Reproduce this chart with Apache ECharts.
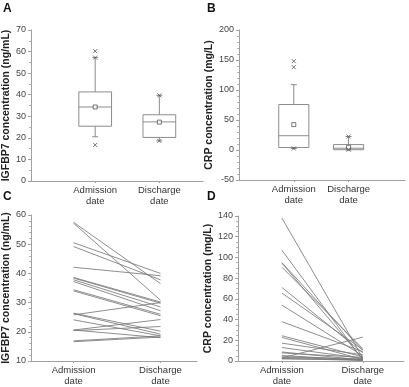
<!DOCTYPE html>
<html>
<head>
<meta charset="utf-8">
<script src="https://cdn.jsdelivr.net/npm/echarts@6/dist/echarts.min.js"></script>
<style>
  html, body { margin: 0; padding: 0; background: #fff; }
  #chart { width: 409px; height: 387px; }
</style>
</head>
<body>
<div id="chart"></div>
<script>
// labels for the two time points
const categories = ['Admission\ndate', 'Discharge\ndate']

// A: IGFBP7 boxes  [x, whiskerLow, Q1, median, Q3, whiskerHigh]
const igfbpBox = [
    [1, 20.5, 25.4, 34.3, 41.3, 57.2],
    [2, 18.6, 20.2, 27.4, 30.7, 39.7]
]
const igfbpMean = [[1, 34.3], [2, 27.3]]
const igfbpMarks = [[1, 60.2], [1, 57.2], [1, 16.7], [2, 39.7], [2, 18.6]]

// B: CRP boxes
const crpBox = [
    [1, 2.5, 4.2, 23.8, 75.8, 108.9],
    [2, 0.0, 0.5, 3.0, 9.0, 22.5]
]
const crpMean = [[1, 42.3], [2, 4.5]]
const crpMarks = [[1, 148], [1, 138], [1, 2.5], [2, 22.5], [2, 0.5]]

// C: IGFBP7 per patient, admission / discharge
const igfbpAdmission = [57.5, 57.2, 50.5, 49.2, 42.1, 38.6, 38.4, 37.8, 37.2, 34.4,
    34.0, 26.4, 26.2, 25.8, 24.1, 20.6, 20.4, 20.6, 16.9, 16.6]
const igfbpDischarge = [36.5, 30.8, 40.0, 37.8, 39.2, 30.2, 29.8, 28.5, 27.2, 26.0,
    25.5, 20.2, 19.2, 30.0, 18.6, 24.2, 21.8, 18.0, 18.6, 18.2]

// D: CRP per patient
const crpAdmission = [138, 107, 95, 94.5, 90.6, 71, 65.6, 54, 38, 24.4, 22.8,
    17.2, 13, 8.7, 7.8, 5.3, 4, 3, 3.5, 2.5, 2]
const crpDischarge = [3, 1, 10, 2, 12, 8, 11, 5, 9, 4, 1.5,
    6, 2.5, 1, 3.5, 0.8, 2, 23, 1, 0.5, 1.2]

const font = 'Liberation Sans, Arial, sans-serif'
const grey = '#8c8c8c'

const makeBox = (boxW) => (params, api) => {
    const x = api.value(0)
    const lo = api.coord([x, api.value(1)])
    const q1 = api.coord([x, api.value(2)])
    const md = api.coord([x, api.value(3)])
    const q3 = api.coord([x, api.value(4)])
    const hi = api.coord([x, api.value(5)])
    const w = api.size([boxW, 0])[0]
    const cx = lo[0]
    const st = { stroke: grey, lineWidth: 1, fill: null }
    return {
        type: 'group',
        children: [
            { type: 'line', shape: { x1: cx, y1: hi[1], x2: cx, y2: q3[1] }, style: st },
            { type: 'line', shape: { x1: cx, y1: q1[1], x2: cx, y2: lo[1] }, style: st },
            { type: 'line', shape: { x1: cx - 3, y1: hi[1], x2: cx + 3, y2: hi[1] }, style: st },
            { type: 'line', shape: { x1: cx - 3, y1: lo[1], x2: cx + 3, y2: lo[1] }, style: st },
            { type: 'rect', shape: { x: cx - w / 2, y: q3[1], width: w, height: q1[1] - q3[1] },
              style: { stroke: grey, lineWidth: 1, fill: '#fff' } },
            { type: 'line', shape: { x1: cx - w / 2, y1: md[1], x2: cx + w / 2, y2: md[1] }, style: st }
        ]
    }
}

const xMark = 'path://M0,0L10,10M10,0L0,10'

const yAxisBase = (grid, min, max, interval, minor, name, gap) => ({
    type: 'value', gridIndex: grid, min: min, max: max, interval: interval,
    name: name, nameLocation: 'middle', nameGap: gap,
    nameTextStyle: { fontFamily: font, fontSize: 10.5, fontWeight: 'bold', color: '#222' },
    axisLine: { show: true, lineStyle: { color: '#a0a0a0' } },
    axisTick: { show: true, length: 3, lineStyle: { color: '#a0a0a0' } },
    minorTick: { show: true, splitNumber: minor, length: 2, lineStyle: { color: '#b0b0b0' } },
    splitLine: { show: false },
    axisLabel: { fontFamily: font, fontSize: 9, color: '#444', margin: 5 }
})

const xAxisBase = (grid, min, max) => ({
    type: 'value', gridIndex: grid, min: min, max: max,
    axisLine: { show: true, onZero: false, lineStyle: { color: '#a0a0a0' } },
    axisTick: { show: true, length: 2, customValues: [1, 2], lineStyle: { color: '#a0a0a0' } },
    splitLine: { show: false },
    axisLabel: {
        customValues: [1, 2], fontFamily: font, fontSize: 9.5, color: '#333',
        margin: 4, lineHeight: 11,
        formatter: v => categories[Math.round(v) - 1] || ''
    }
})

const pairSeries = (adm, dis, idx) => adm.map((a, i) => ({
    type: 'line', xAxisIndex: idx, yAxisIndex: idx,
    data: [[1, a], [2, dis[i]]],
    symbol: 'none', silent: true,
    lineStyle: { color: '#7a7a7a', width: 1, opacity: 0.85 }
}))

const letters = [['A', 3, 3], ['B', 207, 3], ['C', 3, 191], ['D', 207, 191]]

const option = {
    animation: false,
    backgroundColor: '#fff',
    graphic: letters.map(l => ({
        type: 'text', left: l[1], top: l[2],
        style: { text: l[0], font: 'bold 12px ' + font, fill: '#111' }
    })),
    grid: [
        { left: 30, right: 206, top: 30, height: 151 },
        { left: 239, right: 4, top: 30, height: 150 },
        { left: 30, right: 212, top: 215, height: 150 },
        { left: 238, right: 5, top: 216, height: 149 }
    ],
    xAxis: [
        xAxisBase(0, 0, 2.68),
        xAxisBase(1, 0, 3.03),
        xAxisBase(2, 0.51, 2.42),
        xAxisBase(3, 0.457, 2.51)
    ],
    yAxis: [
        yAxisBase(0, 0, 70, 10, 2, 'IGFBP7 concentration (ng/mL)', 19),
        yAxisBase(1, -50, 200, 50, 5, 'CRP concentration (mg/L)', 23),
        yAxisBase(2, 10, 60, 10, 5, 'IGFBP7 concentration (ng/mL)', 19),
        yAxisBase(3, 0, 140, 20, 4, 'CRP concentration (mg/L)', 22)
    ],
    series: [
        { type: 'custom', xAxisIndex: 0, yAxisIndex: 0, renderItem: makeBox(0.51), data: igfbpBox,
          encode: { x: 0, y: [1, 2, 3, 4, 5] } },
        { type: 'scatter', xAxisIndex: 0, yAxisIndex: 0, data: igfbpMean, symbol: 'rect', symbolSize: 4,
          itemStyle: { color: '#fff', borderColor: '#555', borderWidth: 1 } },
        { type: 'scatter', xAxisIndex: 0, yAxisIndex: 0, data: igfbpMarks, symbol: xMark, symbolSize: 4,
          itemStyle: { color: 'none', borderColor: '#555', borderWidth: 1 } },
        { type: 'custom', xAxisIndex: 1, yAxisIndex: 1, renderItem: makeBox(0.55), data: crpBox,
          encode: { x: 0, y: [1, 2, 3, 4, 5] } },
        { type: 'scatter', xAxisIndex: 1, yAxisIndex: 1, data: crpMean, symbol: 'rect', symbolSize: 4,
          itemStyle: { color: '#fff', borderColor: '#555', borderWidth: 1 } },
        { type: 'scatter', xAxisIndex: 1, yAxisIndex: 1, data: crpMarks, symbol: xMark, symbolSize: 4,
          itemStyle: { color: 'none', borderColor: '#555', borderWidth: 1 } }
    ].concat(pairSeries(igfbpAdmission, igfbpDischarge, 2))
     .concat(pairSeries(crpAdmission, crpDischarge, 3))
}

const myChart = echarts.init(document.getElementById('chart'), null, { renderer: 'canvas' })
myChart.setOption(option)
</script>
</body>
</html>
